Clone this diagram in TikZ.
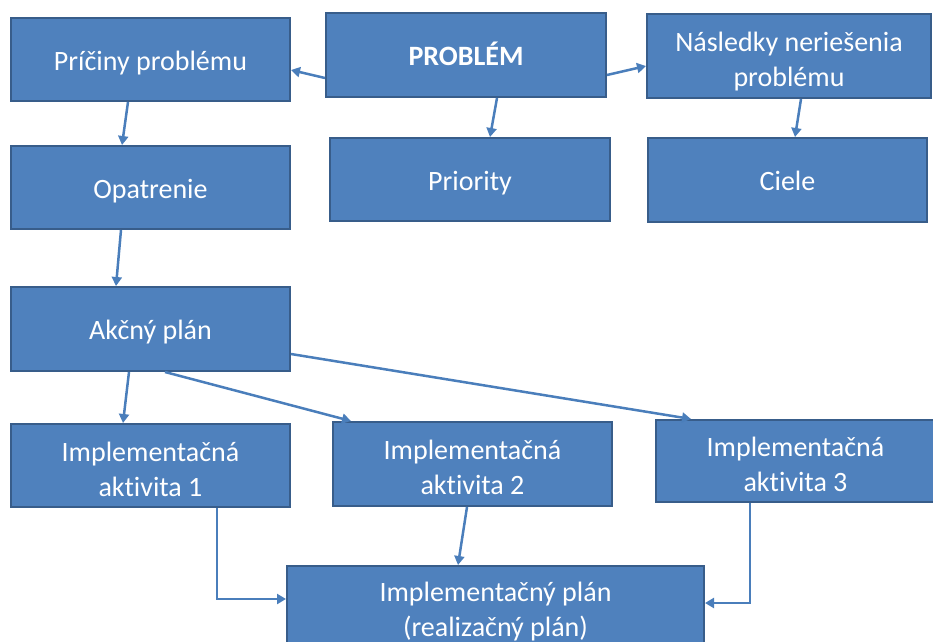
\documentclass[tikz,border=0pt]{standalone}
\usepackage{fontspec}
\setmainfont{Carlito}[Ligatures=NoCommon]
\usetikzlibrary{arrows.meta,calc}
\definecolor{boxfill}{RGB}{79,129,189}
\definecolor{boxline}{RGB}{56,93,138}
\definecolor{arrline}{RGB}{74,126,187}
\begin{document}
\begin{tikzpicture}[x=1pt,y=-1pt,
  blok/.style={draw=boxline,line width=2pt,fill=boxfill,text=white,align=center,
    inner sep=0pt,font=\fontsize{28}{35}\selectfont,
    execute at begin node={\rule{0pt}{28pt}},
    execute at end node={\rule[-7pt]{0pt}{7pt}}},
  dva/.style={execute at begin node={\rule{0pt}{68pt}}},
  sip/.style={draw=arrline,line width=2.5pt,-{Triangle[length=9pt,width=10pt]}}]
\useasboundingbox (0,0) rectangle (933,641);
\node [blok,minimum width=279pt,minimum height=83pt] (pric) at (150.5,59.5) {Príčiny problému};
\node [blok,minimum width=280pt,minimum height=84pt] (probl) at (466,55) {\textbf{PROBLÉM}};
\node [blok,dva,minimum width=284pt,minimum height=84pt] (nasl) at (789,56) {Následky neriešenia\\problému};
\node [blok,minimum width=280pt,minimum height=83pt] (prior) at (470,179.5) {Priority};
\node [blok,minimum width=279pt,minimum height=84pt] (ciele) at (787.5,180) {Ciele};
\node [blok,minimum width=279pt,minimum height=83pt] (opatr) at (150.5,187.5) {Opatrenie};
\node [blok,minimum width=279pt,minimum height=84pt] (akcny) at (150.5,329) {Akčný plán};
\node [blok,dva,minimum width=279pt,minimum height=83pt] (impl1) at (150.5,465.5) {Implementačná\\aktivita 1};
\node [blok,dva,minimum width=279pt,minimum height=84pt] (impl2) at (472.5,464) {Implementačná\\aktivita 2};
\node [blok,dva,minimum width=279pt,minimum height=82pt] (impl3) at (795.5,461) {Implementačná\\aktivita 3};
\node [blok,dva,minimum width=417pt,minimum height=80pt] (plan) at (495.5,606) {Implementačný plán\\(realizačný plán)};
\draw [sip] ($(probl.west)+(0,23)$)--($(pric.east)+(0,10.5)$);
\draw [sip] ($(probl.east)+(0,20)$)--($(nasl.west)+(0,10)$);
\draw [sip] ($(probl.south)+(31,0)$)--($(prior.north)+(20,0)$);
\draw [sip] ($(nasl.south)+(12,0)$)--($(ciele.north)+(7.5,0)$);
\draw [sip] ($(pric.south)+(-22.5,0)$)--($(opatr.north)+(-28.5,0)$);
\draw [sip] ($(opatr.south)+(-29.5,0)$)--($(akcny.north)+(-34.5,0)$);
\draw [sip] ($(akcny.south)+(-21.5,0)$)--($(impl1.north)+(-27.5,0)$);
\draw [sip] ($(akcny.south)+(14.5,0)$)--($(impl2.north west)+(19,0)$);
\draw [sip] ($(akcny.east)+(0,25)$)--($(impl3.north west)+(36,0)$);
\draw [sip] ($(impl1.south)+(66.5,0)$) |- ($(plan.west)+(0,-7)$);
\draw [sip] ($(impl2.south)+(-5.5,0)$)--($(plan.north)+(-37.5,0)$);
\draw [sip] ($(impl3.south)+(-45.5,0)$) |- ($(plan.east)+(0,-3)$);
\end{tikzpicture}
\end{document}
